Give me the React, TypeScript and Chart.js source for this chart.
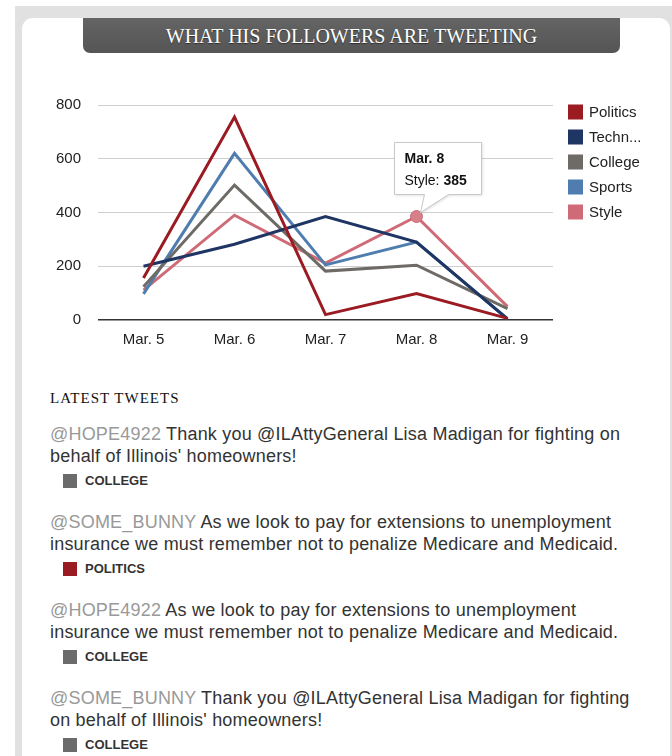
import React, { useEffect, useRef } from "react";
import { Chart, registerables } from "chart.js";

Chart.register(...registerables);

const categories = ["Mar. 5", "Mar. 6", "Mar. 7", "Mar. 8", "Mar. 9"];
const seriesNames = ["Politics", "Technology", "College", "Sports", "Style"];
const legendLabels = ["Politics", "Techn...", "College", "Sports", "Style"];
const seriesColors = ["#9b1b22", "#1f3563", "#6e6b66", "#4f7db0", "#cf6b76"];
const politics = [156, 755, 20, 98, 6];
const technology = [200, 282, 385, 290, 4];
const college = [124, 502, 182, 204, 42];
const sports = [97, 620, 205, 290, 4];
const style = [111, 390, 212, 385, 50];
const yTicks = [0, 200, 400, 600, 800];
const highlightSeries = 4;
const highlightIndex = 3;

const tweets = [
  { user: "@HOPE4922", first: "Thank you @ILAttyGeneral Lisa Madigan for fighting on", second: "behalf of Illinois' homeowners!", tag: "COLLEGE" },
  { user: "@SOME_BUNNY", first: "As we look to pay for extensions to unemployment", second: "insurance we must remember not to penalize Medicare and Medicaid.", tag: "POLITICS" },
  { user: "@HOPE4922", first: "As we look to pay for extensions to unemployment", second: "insurance we must remember not to penalize Medicare and Medicaid.", tag: "COLLEGE" },
  { user: "@SOME_BUNNY", first: "Thank you @ILAttyGeneral Lisa Madigan for fighting", second: "on behalf of Illinois' homeowners!", tag: "COLLEGE" },
];
const tagColors: Record<string, string> = { COLLEGE: "#6b6b6b", POLITICS: "#9b1b22" };

const FONT = "'Liberation Sans', Arial, Helvetica, sans-serif";

const legendPlugin = {
  id: "customLegend",
  afterDraw(chart: any) {
    const ctx = chart.ctx;
    const x0 = chart.chartArea.right + 15;
    ctx.save();
    ctx.font = `15px ${FONT}`;
    ctx.textBaseline = "middle";
    legendLabels.forEach((lab, i) => {
      const cy = 22 + i * 25;
      ctx.fillStyle = seriesColors[i];
      ctx.fillRect(x0, cy - 7.5, 15, 15);
      ctx.fillStyle = "#222";
      ctx.fillText(lab, x0 + 21, cy + 1);
    });
    ctx.restore();
  },
};

const tooltipPlugin = {
  id: "fixedTooltip",
  afterDatasetsDraw(chart: any) {
    const meta = chart.getDatasetMeta(highlightSeries);
    const pt = meta.data[highlightIndex];
    if (!pt) return;
    const px = pt.x;
    const py = pt.y;
    const ctx = chart.ctx;
    const left = px - 22;
    const top = py - 74;
    const w = 87;
    const h = 52;
    const bottom = top + h;
    ctx.save();
    ctx.shadowColor = "rgba(0,0,0,0.15)";
    ctx.shadowBlur = 3;
    ctx.shadowOffsetX = 1;
    ctx.shadowOffsetY = 1;
    ctx.beginPath();
    ctx.moveTo(left, top);
    ctx.lineTo(left + w, top);
    ctx.lineTo(left + w, bottom);
    ctx.lineTo(px + 32, bottom);
    ctx.lineTo(px + 4, py - 4);
    ctx.lineTo(px + 8, bottom);
    ctx.lineTo(left, bottom);
    ctx.closePath();
    ctx.fillStyle = "#ffffff";
    ctx.fill();
    ctx.shadowColor = "transparent";
    ctx.strokeStyle = "#c8c8c8";
    ctx.lineWidth = 1;
    ctx.stroke();
    ctx.fillStyle = "#111";
    ctx.textBaseline = "middle";
    ctx.font = `bold 14px ${FONT}`;
    ctx.fillText(categories[highlightIndex], left + 10, top + 17);
    const lab = seriesNames[highlightSeries] + ": ";
    ctx.font = `14px ${FONT}`;
    ctx.fillText(lab, left + 10, top + 39);
    const lw = ctx.measureText(lab).width;
    ctx.font = `bold 14px ${FONT}`;
    ctx.fillText(String(style[highlightIndex]), left + 10 + lw, top + 39);
    ctx.restore();
  },
};

function LineChart() {
  const ref = useRef<HTMLCanvasElement | null>(null);
  useEffect(() => {
    if (!ref.current) return;
    const values = [politics, technology, college, sports, style];
    const chart = new Chart(ref.current, {
      type: "line",
      data: {
        labels: categories,
        datasets: seriesNames.map((name, i) => ({
          label: name,
          data: values[i],
          borderColor: seriesColors[i],
          backgroundColor: seriesColors[i],
          borderWidth: 3,
          tension: 0,
          pointRadius: (c: any) => (i === highlightSeries && c.dataIndex === highlightIndex ? 6 : 0),
          pointBackgroundColor: "#d88089",
          pointBorderColor: "#cf6b76",
          pointBorderWidth: 1,
          pointHoverRadius: 0,
        })),
      },
      options: {
        animation: false,
        responsive: true,
        maintainAspectRatio: false,
        events: [],
        layout: { autoPadding: false, padding: { top: 15, right: 119, left: 0, bottom: 0 } },
        plugins: { legend: { display: false }, tooltip: { enabled: false } },
        scales: {
          x: {
            offset: true,
            grid: { display: false, drawTicks: false },
            border: { display: false },
            ticks: { color: "#222", font: { family: FONT, size: 15 }, padding: 11, maxRotation: 0 },
            afterFit: (s: any) => { s.height = 40; },
          },
          y: {
            min: 0,
            max: 800,
            afterBuildTicks: (s: any) => { s.ticks = yTicks.map((v) => ({ value: v })); },
            grid: {
              drawTicks: false,
              color: (c: any) => (c.tick && c.tick.value === 0 ? "#333" : "#cfcfcf"),
              lineWidth: (c: any) => (c.tick && c.tick.value === 0 ? 1.5 : 1),
            },
            border: { display: false },
            ticks: { color: "#222", font: { family: FONT, size: 15 }, padding: 17 },
            afterFit: (s: any) => {
              s.width = 58;
              s.paddingTop = 0;
              s.paddingBottom = 0;
            },
          },
        },
      },
      plugins: [legendPlugin, tooltipPlugin],
    } as any);
    return () => chart.destroy();
  }, []);
  return <canvas ref={ref} />;
}

export default function App() {
  return (
    <div style={{ position: "absolute", left: 0, top: 0, width: 672, height: 756, overflow: "hidden", background: "#fff" }}>
      <div style={{ position: "absolute", left: 15, top: 6, width: 700, height: 800, background: "#e1e1e1" }} />
      <div style={{ position: "absolute", left: 22, top: 18, width: 648, height: 800, background: "#fff", borderRadius: "11px 11px 0 0" }} />
      <div
        style={{
          position: "absolute",
          left: 83,
          top: 18,
          width: 537,
          height: 35,
          background: "linear-gradient(#646464, #555)",
          borderRadius: "0 0 7px 7px",
          color: "#fff",
          fontFamily: "'Liberation Serif', 'DejaVu Serif', serif",
          fontSize: 20,
          lineHeight: "37px",
          textAlign: "center",
          textShadow: "0 1px 1px rgba(0,0,0,0.5)",
        }}
      >
        WHAT HIS FOLLOWERS ARE TWEETING
      </div>
      <div style={{ position: "absolute", left: 40, top: 90, width: 632, height: 270 }}>
        <LineChart />
      </div>
      <div
        style={{
          position: "absolute",
          left: 50,
          top: 389,
          fontFamily: "'Liberation Serif', 'DejaVu Serif', serif",
          fontSize: 15,
          letterSpacing: 1,
          color: "#111",
          lineHeight: "18px",
        }}
      >
        LATEST TWEETS
      </div>
      {tweets.map((t, i) => (
        <div
          key={i}
          style={{
            position: "absolute",
            left: 50,
            top: 423 + i * 88,
            fontFamily: FONT,
            fontSize: 18,
            letterSpacing: 0.2,
            lineHeight: "22px",
            color: "#333",
            whiteSpace: "nowrap",
          }}
        >
          <div>
            <span style={{ color: "#999" }}>{t.user}</span> {t.first}
          </div>
          <div>{t.second}</div>
          <div style={{ display: "flex", alignItems: "center", marginLeft: 13, marginTop: 5, height: 18, letterSpacing: 0 }}>
            <span style={{ display: "inline-block", width: 14, height: 14, background: tagColors[t.tag] }} />
            <span style={{ marginLeft: 8, fontSize: 13, fontWeight: "bold", color: "#333" }}>{t.tag}</span>
          </div>
        </div>
      ))}
    </div>
  );
}
